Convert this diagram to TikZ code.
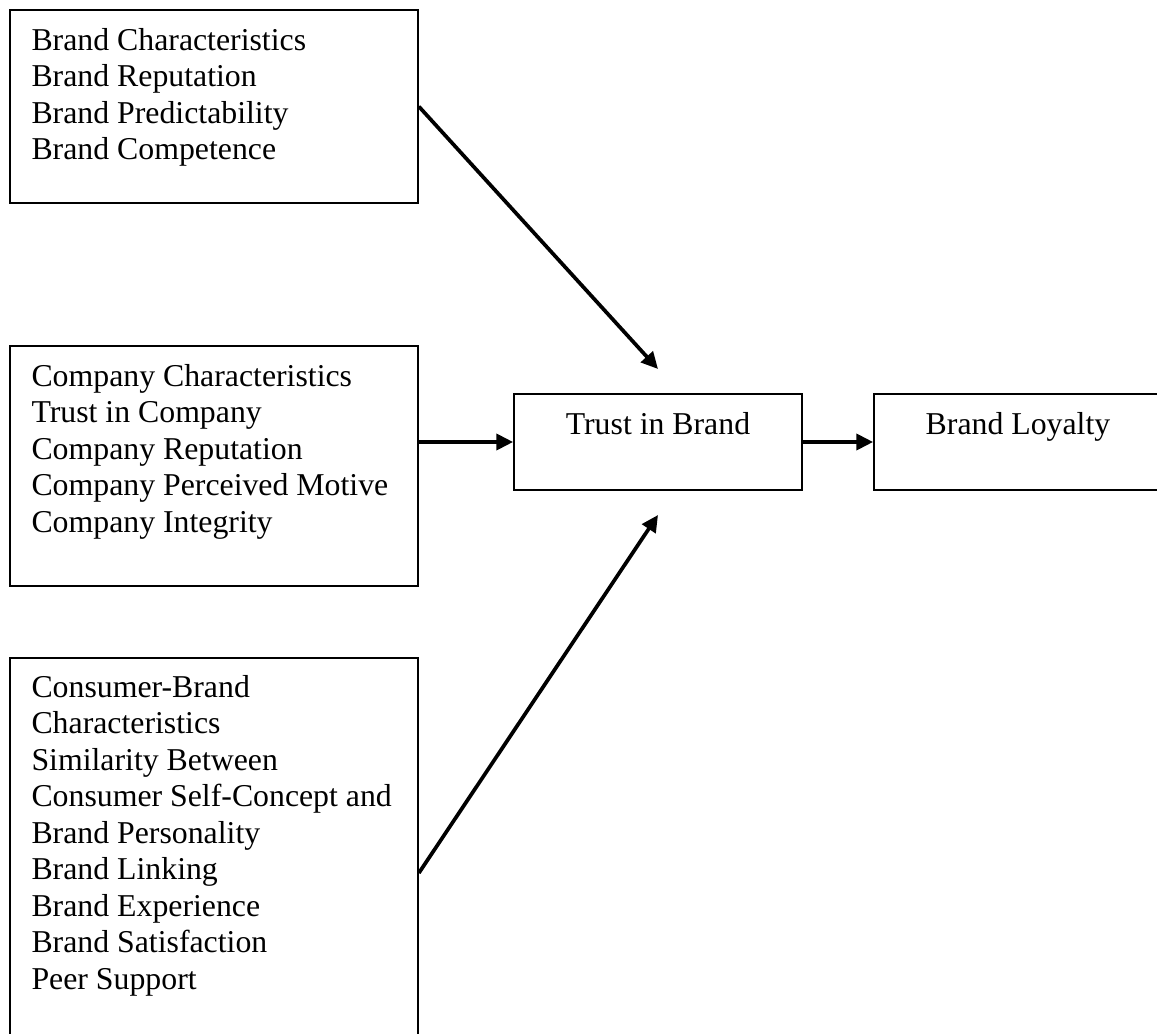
\documentclass[tikz,border=0pt]{standalone}
\usepackage{fontspec}
\setmainfont{Liberation Serif}
\usetikzlibrary{arrows.meta,fit}
\newcommand\linestack[1]{\vtop{\baselineskip=13.8pt\lineskiplimit=-20pt\lineskip=0pt\halign{##\hfil\cr#1\crcr}}}
\begin{document}
\begin{tikzpicture}[x=0.3774pt,y=-0.3774pt,
  box/.style={draw,line width=0.65pt,inner sep=0pt,rectangle},
  txt/.style={inner sep=0pt,font=\fontsize{12}{13.8}\selectfont},
  conn/.style={line width=1.4pt,-{Triangle[length=6.3pt,width=6pt]}}]
\useasboundingbox (0,0) rectangle (1157,1034);
\clip (0,0) rectangle (1157,1034);
% boxes
\node[box,fit={(10,10) (418,203)}] (b1) {};
\node[box,fit={(10,346) (418,586)}] (b2) {};
\node[box,fit={(10,658) (418,1088)}] (b3) {};
\node[box,fit={(514,394) (802,490)}] (trust) {};
\node[box,fit={(874,394) (1162,490)}] (loyal) {};
% texts
\node[txt,anchor=base west] (t1) at (31,50) {\linestack{Brand Characteristics\cr Brand Reputation\cr Brand Predictability\cr Brand Competence}};
\node[txt,anchor=base west] (t2) at (31,386) {\linestack{Company Characteristics\cr Trust in Company\cr Company Reputation\cr Company Perceived Motive\cr Company Integrity}};
\node[txt,anchor=base west] (t3) at (31,697) {\linestack{Consumer-Brand\cr Characteristics\cr Similarity Between\cr Consumer Self-Concept and\cr Brand Personality\cr Brand Linking\cr Brand Experience\cr Brand Satisfaction\cr Peer Support}};
\node[txt,anchor=base] (ttrust) at (658,434) {Trust in Brand};
\node[txt,anchor=base] (tloyal) at (1018,434) {Brand Loyalty};
% connectors
\coordinate (tip1) at (658,369);
\coordinate (tip3) at (658,515);
\draw[conn] (b1.east) -- (tip1);
\draw[conn] (b2.east |- trust.west) -- (trust.west);
\draw[conn] (b3.east) -- (tip3);
\draw[conn] (trust.east) -- (loyal.west);
\end{tikzpicture}
\end{document}
